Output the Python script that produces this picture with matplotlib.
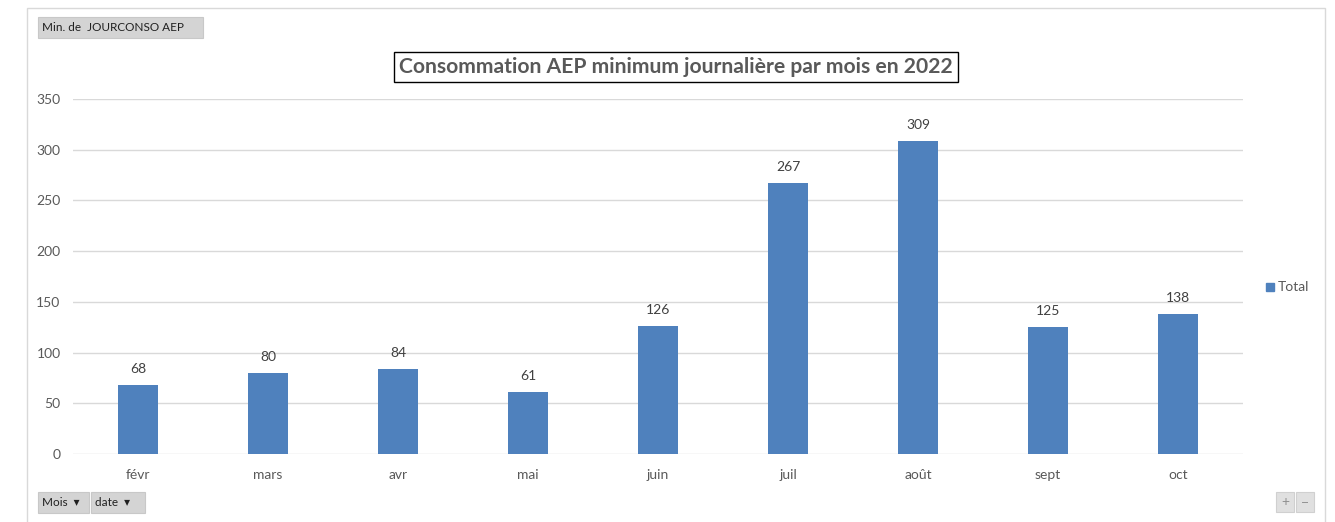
import matplotlib
matplotlib.use("Agg")
import matplotlib.pyplot as plt
from matplotlib.patches import Rectangle

months = ["févr", "mars", "avr", "mai", "juin", "juil", "août", "sept", "oct"]
values = [68, 80, 84, 61, 126, 267, 309, 125, 138]
yticks = [0, 50, 100, 150, 200, 250, 300, 350]
title = "Consommation AEP minimum journalière par mois en 2022"

W, H = 1335, 522
fig = plt.figure(figsize=(W / 100, H / 100), dpi=100)
plt.rcParams['font.family'] = ['Lato', 'DejaVu Sans']

def fx(px):
    return px / W

def fy(py):
    return 1 - py / H

# outer chart border
fig.patches.append(Rectangle((fx(27), fy(530)), fx(1325) - fx(27), fy(8) - fy(530),
                             transform=fig.transFigure, fill=False, edgecolor="#D9D9D9", lw=1))

ax = fig.add_axes([fx(73), fy(454), fx(1243) - fx(73), fy(99) - fy(454)])
x = range(len(months))
bars = ax.bar(x, values, width=0.31, color="#4F81BD", zorder=3, label="Total")
ax.set_ylim(0, 350)
ax.set_xlim(-0.5, len(months) - 0.5)
ax.set_yticks(yticks)
ax.set_xticks(list(x))
ax.set_xticklabels(months)
ax.grid(axis="y", color="#D9D9D9", lw=1, zorder=0)
for s in ax.spines.values():
    s.set_visible(False)
ax.tick_params(axis="both", length=0, colors="#595959", labelsize=10)
ax.tick_params(axis="y", pad=9)
ax.tick_params(axis="x", pad=11)
for lbl in ax.get_yticklabels():
    lbl.set_horizontalalignment("right")
for b, v in zip(bars, values):
    ax.annotate(str(v), (b.get_x() + b.get_width() / 2, v), xytext=(0, 7),
                textcoords="offset points", ha="center", va="bottom",
                fontsize=10, color="#404040")

# title with box
fig.text(fx(676), fy(67), title, ha="center", va="center", fontsize=15.2, fontweight="bold",
         color="#595959",
         bbox=dict(boxstyle="square,pad=0.25", facecolor="white", edgecolor="black", lw=1))

# legend
fig.patches.append(Rectangle((fx(1266), fy(291)), fx(8), fy(283) - fy(291),
                             transform=fig.transFigure, color="#4F81BD"))
fig.text(fx(1278), fy(287), "Total", ha="left", va="center", fontsize=10, color="#595959")

# field buttons
def button(x0, y0, x1, y1, text):
    fig.patches.append(Rectangle((fx(x0), fy(y1)), fx(x1) - fx(x0), fy(y0) - fy(y1),
                                 transform=fig.transFigure, facecolor="#D4D4D4",
                                 edgecolor="#C8C8C8", lw=0.8))
    fig.text(fx(x0 + 4), fy((y0 + y1) / 2), text, ha="left", va="center",
             fontsize=8.5, color="#202020")

button(38, 17, 203, 38, "Min. de  JOURCONSO AEP")
button(38, 492, 89, 513, "Mois  \u25BE")
button(91, 492, 145, 513, "date  \u25BE")
fig.patches.append(Rectangle((fx(1276), fy(512)), fx(18), fy(492) - fy(512),
                             transform=fig.transFigure, facecolor="#E0E0E0", edgecolor="#D0D0D0", lw=0.8))
fig.patches.append(Rectangle((fx(1296), fy(512)), fx(18), fy(492) - fy(512),
                             transform=fig.transFigure, facecolor="#E0E0E0", edgecolor="#D0D0D0", lw=0.8))
fig.text(fx(1285), fy(502), "+", ha="center", va="center", fontsize=10, color="#909090")
fig.text(fx(1305), fy(502), "\u2212", ha="center", va="center", fontsize=10, color="#909090")

fig.savefig("out.png", dpi=100, facecolor="white")
